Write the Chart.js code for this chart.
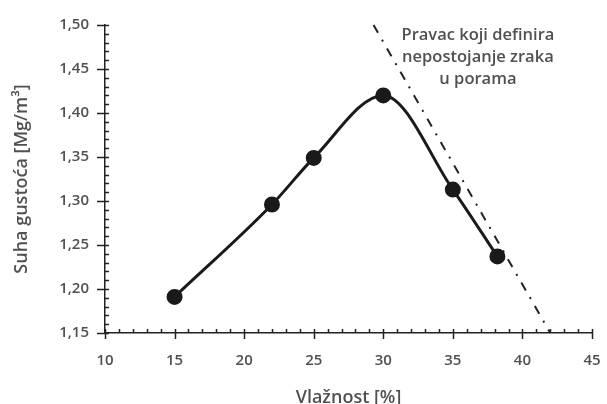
<!DOCTYPE html>
<html>
<head>
<meta charset="utf-8">
<script src="https://cdn.jsdelivr.net/npm/chart.js@4"></script>
<style>
  html, body { margin: 0; padding: 0; background: #fff; }
  #wrap { width: 607px; height: 404px; }
</style>
</head>
<body>
<div id="wrap"><canvas id="chart" width="607" height="404"></canvas></div>
<script>
// vlaznost [%] i suha gustoca [Mg/m3]
const moisture = [15, 22, 25, 30, 35, 38.2];
const density = [1.191, 1.296, 1.349, 1.420, 1.313, 1.237];

// pravac nultog zraka u porama (krajnje tocke)
const zavLineX = [29.3, 42.0];
const zavLineY = [1.50, 1.15];

const xTicks = [10, 15, 20, 25, 30, 35, 40, 45];
const yTicks = [1.15, 1.20, 1.25, 1.30, 1.35, 1.40, 1.45, 1.50];

const noteLines = ['Pravac koji definira', 'nepostojanje zraka', 'u porama'];
const noteAnchor = [36.8, 1.488];

const fontFam = "'Open Sans', 'Noto Sans', sans-serif";
const textCol = '#505050';

// male crtice na osima
const tickMarks = {
  id: 'tickMarks',
  afterDraw(chart) {
    const ctx = chart.ctx;
    const xs = chart.scales.x, ys = chart.scales.y;
    const x0 = xs.left, y0 = ys.bottom;
    ctx.save();
    ctx.strokeStyle = '#222';
    ctx.lineWidth = 1.5;
    ctx.beginPath();
    for (let v = xTicks[0]; v <= xTicks[xTicks.length - 1]; v++) {
      const px = Math.round(xs.getPixelForValue(v)) + 0.5;
      const major = xTicks.includes(v);
      ctx.moveTo(px, y0 - 4);
      ctx.lineTo(px, major ? y0 + 6 : y0);
    }
    for (let i = 0; i <= 35; i++) {
      const v = 1.15 + i * 0.01;
      const py = Math.round(ys.getPixelForValue(v)) + 0.5;
      const major = i % 5 === 0;
      ctx.moveTo(major ? x0 - 8 : x0, py);
      ctx.lineTo(x0 + 4, py);
    }
    ctx.stroke();

    // napomena uz pravac
    ctx.fillStyle = textCol;
    ctx.font = '600 16.5px ' + fontFam;
    ctx.textAlign = 'center';
    ctx.textBaseline = 'middle';
    const nx = xs.getPixelForValue(noteAnchor[0]);
    const ny = ys.getPixelForValue(noteAnchor[1]);
    noteLines.forEach((t, i) => ctx.fillText(t, nx, ny + i * 22));
    ctx.restore();
  }
};

new Chart(document.getElementById('chart'), {
  type: 'scatter',
  data: {
    datasets: [{
      data: moisture.map((x, i) => ({x: x, y: density[i]})),
      showLine: true,
      borderColor: '#1a1a1a',
      backgroundColor: '#1a1a1a',
      borderWidth: 3,
      pointRadius: 6.5,
      pointHoverRadius: 6.5,
      cubicInterpolationMode: 'monotone'
    }, {
      data: zavLineX.map((x, i) => ({x: x, y: zavLineY[i]})),
      showLine: true,
      borderColor: '#222',
      borderWidth: 2,
      borderDash: [9, 8, 2, 8],
      pointRadius: 0,
      clip: false
    }]
  },
  options: {
    responsive: false,
    animation: false,
    layout: { padding: { top: 19, right: 15, left: 0, bottom: 0 } },
    plugins: { legend: { display: false }, tooltip: { enabled: false } },
    scales: {
      x: {
        type: 'linear',
        min: 10, max: 45,
        afterFit: s => { s.height = 71; s.paddingRight = 0; s.paddingLeft = 0; },
        afterBuildTicks: s => { s.ticks = xTicks.map(v => ({value: v})); },
        grid: { display: false, drawTicks: false },
        border: { display: true, color: '#222', width: 1.5 },
        ticks: { color: textCol, padding: 19, font: { family: fontFam, size: 15, weight: '600' } },
        title: {
          display: true, text: 'Vlažnost [%]', color: textCol,
          font: { family: fontFam, size: 18, weight: '600' },
          padding: { top: 0, bottom: -5 }
        }
      },
      y: {
        min: 1.15, max: 1.50,
        afterFit: s => { s.width = 105; },
        afterBuildTicks: s => { s.ticks = yTicks.map(v => ({value: v})); },
        grid: { display: false, drawTicks: false },
        border: { display: true, color: '#222', width: 1.5 },
        ticks: {
          color: textCol, padding: 16,
          font: { family: fontFam, size: 15, weight: '600' },
          callback: v => v.toFixed(2).replace('.', ',')
        },
        title: {
          display: true, text: 'Suha gustoća [Mg/m³]', color: textCol,
          font: { family: fontFam, size: 18, weight: '600' },
          padding: { top: 11, bottom: 0 }
        }
      }
    }
  },
  plugins: [tickMarks]
});
</script>
</body>
</html>
